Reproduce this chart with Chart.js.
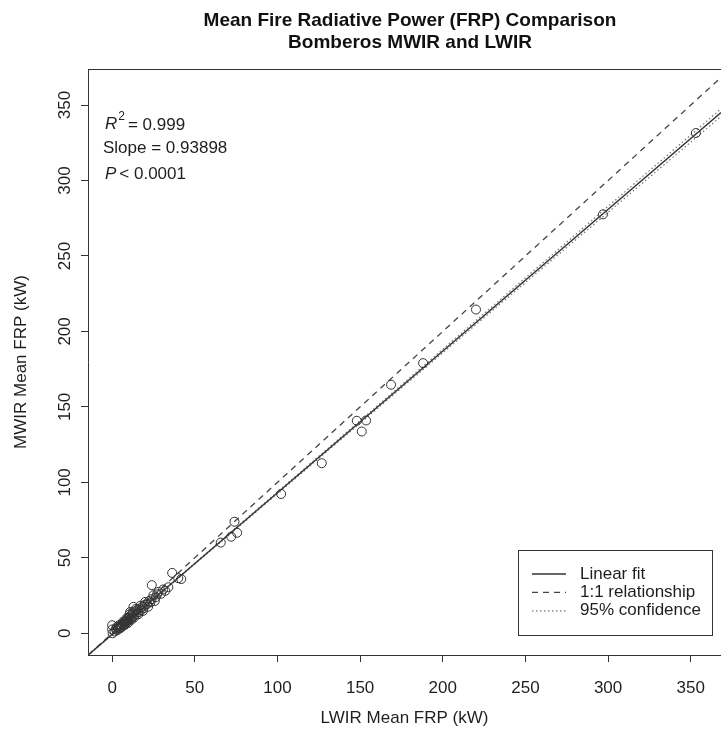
<!DOCTYPE html>
<html>
<head>
<meta charset="utf-8">
<script src="https://cdn.jsdelivr.net/npm/chart.js@4.4.0/dist/chart.umd.min.js"></script>
<style>
  html, body { margin: 0; padding: 0; background: #fff; }
</style>
</head>
<body>
<canvas id="grafico" width="721" height="731"></canvas>
<script>
// Dados: LWIR (eixo x) e MWIR (eixo y), em kW
const lwirFrp = [0.3, 0.0, 0.0, 1.5, 2.2, 3.0, 3.5, 4.2, 4.8, 5.3, 5.8, 6.2, 6.8,
  7.2, 7.6, 8.1, 8.5, 9.0, 9.4, 9.9, 10.3, 10.8, 10.9,
  11.3, 11.8, 12.2, 12.8, 12.9, 13.5, 14.1, 14.7, 15.4, 16.0,
  16.8, 17.5, 18.3, 19.0, 20.0, 21.2, 22.4, 23.2, 24.0, 25.0,
  26.4, 27.2, 28.0, 29.6, 30.8, 32.1, 34.0, 36.3, 40.0, 41.8,
  65.7, 72.0, 74.0, 75.6, 102.2, 126.8, 148.0, 151.0, 153.6, 168.7,
  188.1, 220.1, 296.9, 353.1,
  2.8, 4.0, 5.0, 6.5, 7.8, 8.8, 9.6, 10.6, 11.6, 12.5,
  13.2, 14.4, 15.8, 17.0, 18.6, 19.8, 21.8, 23.8, 25.8];
const mwirFrp = [0.0, 2.5, 5.3, 1.2, 2.8, 2.0, 3.6, 3.0, 4.6, 5.5, 4.2, 6.3, 5.4,
  7.4, 6.1, 8.0, 7.0, 9.2, 7.9, 10.3, 8.8, 11.2, 14.1,
  9.9, 12.4, 10.6, 13.2, 17.5, 11.8, 14.6, 12.9, 15.7, 14.0,
  16.4, 15.3, 17.6, 16.5, 20.8, 19.4, 21.3, 20.5, 31.9, 25.2,
  23.9, 25.8, 27.4, 26.2, 29.0, 28.1, 30.5, 40.0, 36.5, 35.9,
  60.1, 64.0, 73.9, 66.6, 92.3, 112.7, 140.8, 133.7, 141.0, 164.7,
  179.0, 214.5, 277.6, 331.5,
  4.1, 5.2, 3.4, 7.5, 5.6, 10.0, 6.8, 12.6, 8.9, 14.0,
  10.4, 16.2, 12.6, 18.2, 14.8, 18.9, 17.6, 22.6, 21.4];

// Ajuste linear (extremos)
const fitX = [-14.6, 368.3];
const fitY = [-14.5, 345.0];

// Linha 1:1
const oneX = [-14.6, 373.9];
const oneY = [-14.6, 373.9];

// Intervalo de confianca 95%
const confX = [-14.6, 0, 50, 100, 150, 200, 250, 300, 368.3];
const confUpper = [-14.1, -0.5, 46.45, 93.7, 140.9, 188.2, 235.5, 282.9, 347.5];
const confLower = [-14.9, -1.1, 45.85, 92.5, 139.2, 185.8, 232.4, 278.9, 342.5];

// Eixos
const xRange = [-14.6, 368.3];
const yRange = [-14.4, 373.9];
const xTicks = [0, 50, 100, 150, 200, 250, 300, 350];
const yTicks = [0, 50, 100, 150, 200, 250, 300, 350];

const titulo = ["Mean Fire Radiative Power (FRP) Comparison", "Bomberos MWIR and LWIR"];
const fonte = "'Liberation Sans', Arial, Helvetica, sans-serif";
const corTexto = "#1e1e1e";

const juntar = (xs, ys) => xs.map((x, i) => ({ x: x, y: ys[i] }));

// Desenho extra: moldura, rotulos do eixo y, titulo, anotacoes e legenda
const extras = {
  id: "extras",
  afterDraw(chart) {
    const c = chart.ctx;
    const area = chart.chartArea;
    const yScale = chart.scales.y;

    c.save();
    // linha de cima da moldura
    c.strokeStyle = "#333";
    c.lineWidth = 1;
    c.beginPath();
    c.moveTo(area.left, area.top + 0.5);
    c.lineTo(area.right + 2, area.top + 0.5);
    c.stroke();

    // rotulos do eixo y (girados como no R)
    c.fillStyle = corTexto;
    c.font = "17px " + fonte;
    c.textAlign = "center";
    c.textBaseline = "middle";
    yTicks.forEach(v => {
      const py = yScale.getPixelForValue(v);
      c.save();
      c.translate(65, py);
      c.rotate(-Math.PI / 2);
      c.fillText(String(v), 0, 0);
      c.restore();
    });

    // titulo
    c.font = "bold 19px " + fonte;
    c.fillStyle = "#111";
    c.fillText(titulo[0], 410, 21);
    c.fillText(titulo[1], 410, 43);

    // anotacoes
    c.textAlign = "left";
    c.fillStyle = corTexto;
    let x = 105;
    c.font = "italic 17px " + fonte;
    c.fillText("R", x, 124);
    x += c.measureText("R").width + 1;
    c.font = "12px " + fonte;
    c.fillText("2", x, 117);
    x += c.measureText("2").width + 3;
    c.font = "17px " + fonte;
    c.fillText("= 0.999", x, 125);

    c.fillText("Slope = 0.93898", 103, 148);

    x = 105;
    c.font = "italic 17px " + fonte;
    c.fillText("P", x, 174);
    x += c.measureText("P").width + 3;
    c.font = "17px " + fonte;
    c.fillText("< 0.0001", x, 174);

    // legenda
    c.strokeStyle = "#333";
    c.lineWidth = 1;
    c.strokeRect(518.5, 550.5, 194, 85);
    const linhas = chart.data.datasets.filter(d => d.naLegenda);
    linhas.forEach((d, i) => {
      const ly = 574 + i * 18.4;
      c.save();
      c.strokeStyle = d.borderColor;
      c.lineWidth = d.borderWidth;
      c.setLineDash(d.borderDash || []);
      c.beginPath();
      c.moveTo(532, ly);
      c.lineTo(566, ly);
      c.stroke();
      c.restore();
      c.fillStyle = corTexto;
      c.font = "17px " + fonte;
      c.fillText(d.label, 580, ly);
    });
    c.restore();
  }
};

const ctx = document.getElementById("grafico").getContext("2d");
const meuGrafico = new Chart(ctx, {
  type: "scatter",
  data: {
    datasets: [
      {
        label: "pontos",
        data: juntar(lwirFrp, mwirFrp),
        pointStyle: "circle",
        pointRadius: 4.5,
        pointBorderWidth: 1,
        pointBorderColor: "#333",
        pointBackgroundColor: "rgba(0,0,0,0)",
        showLine: false
      },
      {
        label: "Linear fit",
        naLegenda: true,
        data: juntar(fitX, fitY),
        showLine: true,
        borderColor: "#333",
        borderWidth: 1.3,
        pointRadius: 0,
        fill: false
      },
      {
        label: "1:1 relationship",
        naLegenda: true,
        data: juntar(oneX, oneY),
        showLine: true,
        borderColor: "#444",
        borderWidth: 1.3,
        borderDash: [6, 5],
        pointRadius: 0,
        fill: false
      },
      {
        label: "95% confidence",
        naLegenda: true,
        data: juntar(confX, confUpper),
        showLine: true,
        borderColor: "#777",
        borderWidth: 1.2,
        borderDash: [1.5, 2.5],
        pointRadius: 0,
        fill: false
      },
      {
        label: "95% confidence (lower)",
        data: juntar(confX, confLower),
        showLine: true,
        borderColor: "#777",
        borderWidth: 1.2,
        borderDash: [1.5, 2.5],
        pointRadius: 0,
        fill: false
      }
    ]
  },
  options: {
    responsive: false,
    animation: false,
    layout: { autoPadding: false, padding: { top: 69, left: 0, right: 0, bottom: 0 } },
    plugins: {
      legend: { display: false },
      title: { display: false },
      tooltip: { enabled: false }
    },
    scales: {
      x: {
        type: "linear",
        min: xRange[0],
        max: xRange[1],
        afterBuildTicks: s => { s.ticks = xTicks.map(v => ({ value: v })); },
        afterFit: s => { s.height = 76; s.paddingLeft = 0; s.paddingRight = 0; },
        grid: { drawOnChartArea: false, drawTicks: true, tickLength: 7, color: "#333" },
        border: { display: true, color: "#333", width: 1 },
        ticks: {
          font: { family: fonte, size: 17 },
          color: corTexto,
          padding: 16,
          maxRotation: 0,
          autoSkip: false
        },
        title: {
          display: true,
          text: "LWIR Mean FRP (kW)",
          font: { family: fonte, size: 17 },
          color: corTexto,
          padding: { top: 0, bottom: 2 }
        }
      },
      y: {
        type: "linear",
        min: yRange[0],
        max: yRange[1],
        afterBuildTicks: s => { s.ticks = yTicks.map(v => ({ value: v })); },
        afterFit: s => { s.width = 88; s.paddingTop = 0; s.paddingBottom = 0; },
        grid: { drawOnChartArea: false, drawTicks: true, tickLength: 7, color: "#333" },
        border: { display: true, color: "#333", width: 1 },
        ticks: { display: false },
        title: {
          display: true,
          text: "MWIR Mean FRP (kW)",
          font: { family: fonte, size: 17 },
          color: corTexto,
          padding: { top: 11, bottom: 0 }
        }
      }
    }
  },
  plugins: [extras]
});
</script>
</body>
</html>
